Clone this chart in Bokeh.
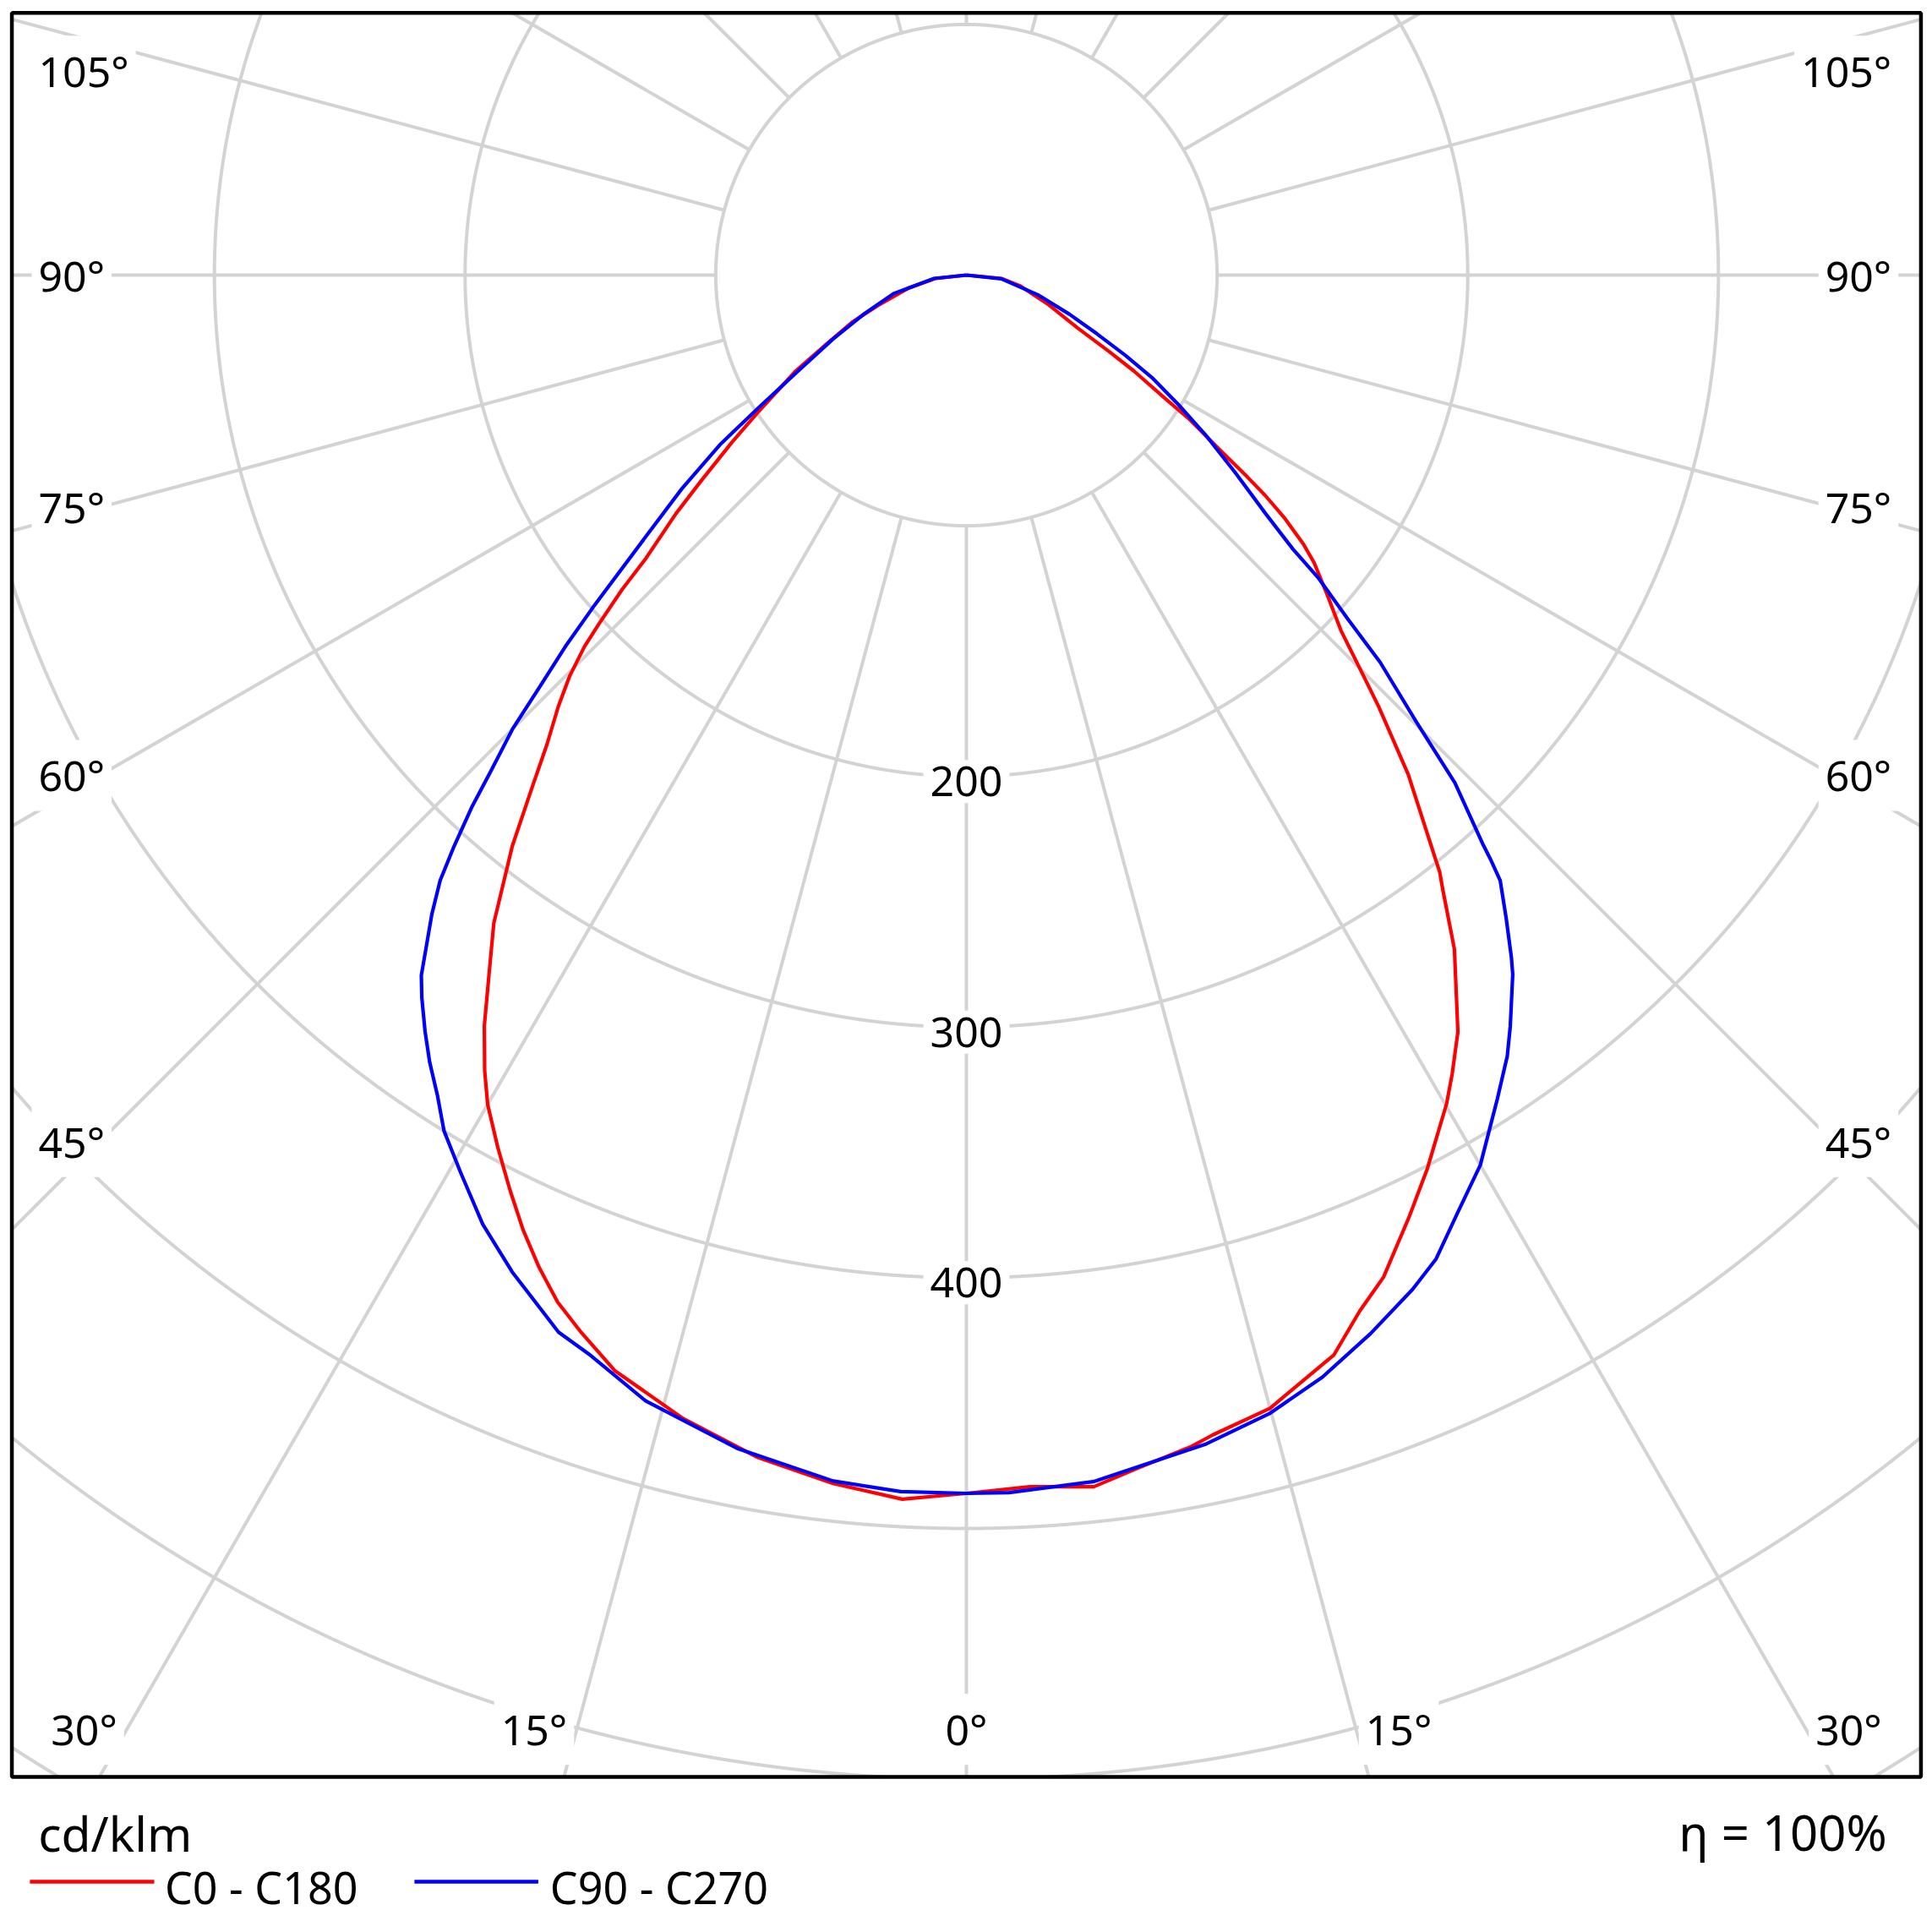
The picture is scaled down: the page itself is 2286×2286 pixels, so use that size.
import numpy as np
from bokeh.plotting import figure
from bokeh.models import Range1d
from bokeh.core.properties import value
from bokeh.embed import file_html
from bokeh.resources import INLINE

# ---------------- data (luminous intensity in cd/klm vs. gamma angle in degrees) -------------
c0_gamma = [0, 3, 6, 8.1, 10.8, 12, 15, 18.8, 20.8, 22.6, 25.2, 27.3, 30.1, 31.3, 33, 35.9,
            37.8, 38.4, 41.5, 43.7, 45, 46.5, 48.5, 50.4, 51.4, 52.6, 53.6, 54.3, 55.4,
            57.1, 58.2, 60.2, 61.9, 64.6, 70.1, 78.6, 84.5, 90]
c0_cd = [486, 484, 486, 481, 476, 473, 468, 455, 442, 433, 415, 401, 382, 373, 360, 332,
         310, 304, 266, 238, 222, 206, 192, 180, 172, 160, 148, 138, 123,
         106, 93, 77, 64, 49, 35, 22, 14, 0]

c180_gamma = [0, 3, 6.3, 10, 13.9, 17.8, 20, 21.7, 23.3, 24.9, 26.5, 28.25, 30, 31.2, 32.7,
              34.3, 36.1, 38.5, 40.2, 41.8, 43.4, 44.7, 45.8, 46.5, 47.6, 48.5, 50.6, 52.2,
              54.5, 56.6, 60.7, 63.7, 67.7, 71.2, 77.4, 83.8, 90]
c180_cd = [486, 489, 485, 479, 470, 459, 449, 441, 431, 420, 408, 395, 382, 371, 356,
           338, 320, 291, 269, 251, 237, 225, 212.5, 202, 186, 171, 150, 134,
           115, 100, 78, 62.5, 49, 37, 23.5, 12.5, 0]

c90_gamma = [0, 2, 6, 11.6, 14.9, 17.9, 20.9, 23.75, 25.5, 27.7, 30, 32.8, 34.7, 35.9, 38,
             38.6, 40, 41.4, 41.9, 42.2, 43.9, 45.2, 46.9, 47.95, 49.3, 50, 51.4, 53.7,
             56.2, 58.6, 61, 63.2, 65.8, 69.2, 74.4, 84, 90]
c90_cd = [486, 486, 484, 476, 470, 462, 452, 442, 435, 422, 410, 391, 379, 370, 354,
          348.5, 335, 322, 313, 307, 281, 253, 226, 205, 185, 170, 153, 133,
          115, 99, 85, 71, 57, 44, 30, 14, 0]

c270_gamma = [0, 3.1, 6.3, 11, 15.9, 19.3, 21.1, 24.5, 27, 29.4, 31.4, 32.8, 34.3, 35.6, 37,
              37.9, 38.7, 39.9, 41, 41.9, 42.9, 43.8, 45, 46, 47.2, 48.3, 50.8, 53.1, 55.5,
              57.4, 60.2, 64.4, 69.1, 75.7, 84, 90]
c270_cd = [486, 486, 484, 477, 467, 456, 452, 437, 425, 411, 400, 389.5, 380, 371, 361,
           354, 345, 332.5, 320, 306, 290, 274, 256, 237, 218, 200, 165, 142, 119,
           99, 78, 59, 44, 30, 13, 0]

ring_values = [100, 200, 300, 400, 500, 600, 700]
ring_labels = [200, 300, 400]
side_angles = [45, 60, 75, 90, 105]
bottom_angles = [0, 15, 30]
radial_step = 15
series_names = ["C0 - C180", "C90 - C270"]
series_colors = ["#ff0000", "#0000ff"]
unit_text = "cd/klm"
eta_text = "\u03b7 = 100%"

# ---------------- layout ----------------
S = 2.966                      # pixels per cd/klm
W = H = 2280
OX, OY = 1143.0, 325.0         # polar origin in canvas pixels
XL, XR, YT, YB = -380.8, 380.8, 104.6, -599.1   # plot frame (data units)
GRID = "#d3d3d3"
FONT = value("Noto Sans")
PAD = 8

p = figure(width=W, height=H,
           x_range=Range1d(-OX / S, (W - OX) / S),
           y_range=Range1d(-(H - OY) / S, OY / S),
           x_axis_type=None, y_axis_type=None,
           output_backend="svg", toolbar_location=None, min_border=0,
           background_fill_color="white", border_fill_color="white")
p.outline_line_color = None


def ray_exit(phi):
    dx, dy = np.sin(phi), -np.cos(phi)
    ts = []
    if dx > 1e-9:
        ts.append(XR / dx)
    elif dx < -1e-9:
        ts.append(XL / dx)
    if dy > 1e-9:
        ts.append(YT / dy)
    elif dy < -1e-9:
        ts.append(YB / dy)
    return min(ts)


gx, gy = [], []
r0 = ring_values[0]
for k in range(360 // radial_step):
    phi = np.radians(k * radial_step)
    t1 = ray_exit(phi)
    if t1 > r0:
        gx.append([r0 * np.sin(phi), t1 * np.sin(phi)])
        gy.append([-r0 * np.cos(phi), -t1 * np.cos(phi)])

th = np.linspace(0, 2 * np.pi, 36001)
for r in ring_values:
    x = r * np.sin(th)
    y = -r * np.cos(th)
    inside = (x >= XL) & (x <= XR) & (y >= YB) & (y <= YT)
    if inside.all():
        gx.append(list(x)); gy.append(list(y)); continue
    edges = np.flatnonzero(np.diff(np.concatenate([[0], inside.astype(int), [0]])))
    runs = list(zip(edges[0::2], edges[1::2]))
    if len(runs) > 1 and inside[0] and inside[-1]:
        (s0, e0), (sl, el) = runs[0], runs[-1]
        gx.append(list(x[sl:el]) + list(x[s0:e0]))
        gy.append(list(y[sl:el]) + list(y[s0:e0]))
        runs = runs[1:-1]
    for s, e in runs:
        gx.append(list(x[s:e])); gy.append(list(y[s:e]))

p.multi_line(gx, gy, line_color=GRID, line_width=4)

# ---------------- angle & value labels ----------------
lab_kw = dict(text_font=FONT, text_font_size="50px", text_color="black",
              text_baseline="middle", background_fill_color="white", padding=PAD)
side_x = 345.7
top_clamp = 81.3
for side, align, xpos in [(-1, "left", -370.2 - PAD / S), (1, "right", 369.1 + PAD / S)]:
    ys_, ts_ = [], []
    for a in side_angles:
        yc = -side_x / np.tan(np.radians(a)) if a != 90 else 0.0
        ys_.append(min(yc, top_clamp))
        ts_.append(f"{a}\u00b0")
    p.text(x=[xpos] * len(ys_), y=ys_, text=ts_, text_align=align, **lab_kw)

row_y = -580.2
bx, bt = [], []
for a in bottom_angles:
    for sgn in ([1] if a == 0 else [-1, 1]):
        off = 0.0 if a == 0 else -row_y * np.tan(np.radians(a)) + 17
        bx.append(sgn * off)
        bt.append(f"{a}\u00b0")
p.text(x=bx, y=[row_y] * len(bx), text=bt, text_align="center", **lab_kw)

p.text(x=[0] * len(ring_labels), y=[-(r + 2) for r in ring_labels],
       text=[str(r) for r in ring_labels], text_align="center", **lab_kw)


# ---------------- curves ----------------
def half(gam, cd, side):
    g = np.radians(np.asarray(gam, float))
    I = np.asarray(cd, float)
    return side * I * np.sin(g), -I * np.cos(g)


for (lg, lc, rg, rc), col in zip([(c180_gamma, c180_cd, c0_gamma, c0_cd),
                                  (c270_gamma, c270_cd, c90_gamma, c90_cd)], series_colors):
    xl, yl = half(lg, lc, -1)
    xr, yr = half(rg, rc, 1)
    p.line(np.concatenate([xl[::-1], xr]), np.concatenate([yl[::-1], yr]),
           line_color=col, line_width=4.2, line_join="round")

# frame
p.quad(left=XL, right=XR, top=YT, bottom=YB, fill_color=None,
       line_color="black", line_width=4.5)

# ---------------- legend / footer ----------------
p.text(x=[-370.3], y=[-621.4], text=[unit_text], text_font=FONT, text_font_size="57px",
       text_align="left", text_baseline="middle", text_color="black")
p.text(x=[367.2], y=[-621.2], text=[eta_text], text_font=FONT, text_font_size="58px",
       text_align="right", text_baseline="middle", text_color="black")

leg_y = -640.9
leg_lines = [(-373.6, -324.0), (-220.2, -170.8)]
leg_text_x = [-319.8, -166.1]
for (x0, x1), tx, name, col in zip(leg_lines, leg_text_x, series_names, series_colors):
    p.line([x0, x1], [leg_y, leg_y], line_color=col, line_width=4.5)
    p.text(x=[tx], y=[-642.8], text=[name], text_font=FONT, text_font_size="52px",
           text_align="left", text_baseline="middle", text_color="black")

open("out.html", "w").write(file_html(p, INLINE))
